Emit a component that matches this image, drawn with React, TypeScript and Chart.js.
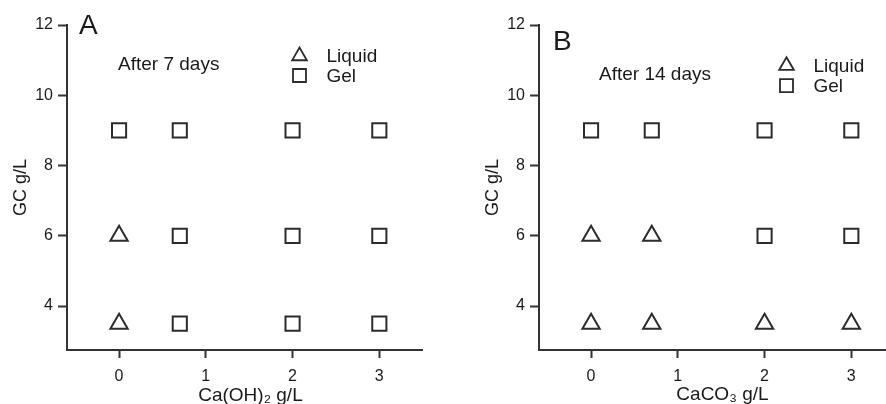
import React, { useEffect, useRef } from "react";
import { Chart, registerables } from "chart.js";

Chart.register(...registerables);

// Tick values shared by both panels
const xTickValues = [0, 1, 2, 3];
const yTickValues = [4, 6, 8, 10, 12];

// Panel A: Ca(OH)2 series after 7 days
const aLiquidX = [0, 0];
const aLiquidY = [6, 3.5];
const aGelX = [0, 0.7, 2, 3, 0.7, 2, 3, 0.7, 2, 3];
const aGelY = [9, 9, 9, 9, 6, 6, 6, 3.5, 3.5, 3.5];

// Panel B: CaCO3 series after 14 days
const bLiquidX = [0, 0.7, 0, 0.7, 2, 3];
const bLiquidY = [6, 6, 3.5, 3.5, 3.5, 3.5];
const bGelX = [0, 0.7, 2, 3, 2, 3];
const bGelY = [9, 9, 9, 9, 6, 6];

const seriesLabels = ["Liquid", "Gel"];

const FONT = "'Liberation Sans', Arial, Helvetica, sans-serif";
const INK = "#1a1a1a";
const MARK = "#2b2b2b";

const toPoints = (xs: number[], ys: number[]) => xs.map((x, i) => ({ x, y: ys[i] }));

type Decor = {
  letter: string;
  letterAt: [number, number];
  note: string;
  noteAt: [number, number];
  legendAt: [number, number];
  legendGap: number;
  xTitle: string;
  xTitleShift: number;
  xTitleBaseline: number;
};

// Panel letter, note, legend and x-axis title, positioned relative to the chart area
const panelDecor = {
  id: "panelDecor",
  afterDraw(chart: any, _args: any, opts: Decor) {
    const { ctx, chartArea } = chart;
    const { left, top, right } = chartArea;
    ctx.save();
    ctx.fillStyle = INK;
    ctx.textAlign = "left";
    ctx.textBaseline = "alphabetic";
    ctx.font = `28px ${FONT}`;
    ctx.fillText(opts.letter, left + opts.letterAt[0], top + opts.letterAt[1]);
    ctx.font = `19px ${FONT}`;
    ctx.fillText(opts.note, left + opts.noteAt[0], top + opts.noteAt[1]);

    chart.data.datasets.forEach((ds: any, i: number) => {
      const cx = left + opts.legendAt[0];
      const cy = top + opts.legendAt[1] + i * opts.legendGap;
      ctx.strokeStyle = MARK;
      ctx.lineWidth = 1.8;
      ctx.beginPath();
      if (ds.pointStyle === "triangle") {
        const r = 8.5;
        for (let k = 0; k < 3; k++) {
          const a = (k * 2 * Math.PI) / 3;
          const px = cx + Math.sin(a) * r;
          const py = cy - Math.cos(a) * r;
          if (k === 0) ctx.moveTo(px, py);
          else ctx.lineTo(px, py);
        }
        ctx.closePath();
      } else {
        const h = 6.5;
        ctx.rect(cx - h, cy - h, 2 * h, 2 * h);
      }
      ctx.stroke();
      ctx.fillStyle = INK;
      ctx.font = `19px ${FONT}`;
      ctx.fillText(ds.label, cx + 27, cy + 6);
    });

    ctx.textAlign = "center";
    ctx.font = `19px ${FONT}`;
    ctx.fillText(opts.xTitle, (left + right) / 2 + opts.xTitleShift, opts.xTitleBaseline);
    ctx.restore();
  },
};

type PanelProps = {
  left: number;
  liquid: { x: number; y: number }[];
  gel: { x: number; y: number }[];
  decor: Decor;
};

function Panel({ left, liquid, gel, decor }: PanelProps) {
  const ref = useRef<HTMLCanvasElement | null>(null);

  useEffect(() => {
    if (!ref.current) return;
    const markerBase = {
      showLine: false,
      pointRadius: 10,
      pointHoverRadius: 10,
      pointBorderWidth: 2,
      borderColor: MARK,
      backgroundColor: "rgba(0,0,0,0)",
      pointBackgroundColor: "rgba(0,0,0,0)",
    };
    const chart = new Chart(ref.current, {
      type: "scatter",
      data: {
        datasets: [
          { ...markerBase, label: seriesLabels[0], data: liquid, pointStyle: "triangle" },
          { ...markerBase, label: seriesLabels[1], data: gel, pointStyle: "rect" },
        ],
      },
      options: {
        responsive: false,
        maintainAspectRatio: false,
        animation: false,
        events: [],
        layout: { padding: { top: 25, right: 27.3, bottom: 0, left: 0 } },
        plugins: {
          legend: { display: false },
          tooltip: { enabled: false },
          panelDecor: decor,
        } as any,
        scales: {
          x: {
            type: "linear",
            position: "bottom",
            min: -0.6,
            max: 3.5,
            afterBuildTicks: (scale: any) => {
              scale.ticks = xTickValues.map((value) => ({ value }));
            },
            afterFit: (scale: any) => {
              scale.height = 54;
            },
            grid: {
              drawOnChartArea: false,
              drawTicks: true,
              tickLength: 8,
              tickWidth: 2,
              tickColor: "#333",
            },
            border: { display: true, color: "#333", width: 2 },
            ticks: {
              color: INK,
              font: { family: FONT, size: 16 },
              padding: 9,
              maxRotation: 0,
              callback: (v: any) => String(v),
            },
          },
          y: {
            type: "linear",
            position: "left",
            min: 2.75,
            max: 12,
            afterBuildTicks: (scale: any) => {
              scale.ticks = yTickValues.map((value) => ({ value }));
            },
            afterFit: (scale: any) => {
              scale.width = 67;
            },
            grid: {
              drawOnChartArea: false,
              drawTicks: true,
              tickLength: 9,
              tickWidth: 2,
              tickColor: "#333",
            },
            border: { display: true, color: "#333", width: 2 },
            ticks: {
              color: INK,
              font: { family: FONT, size: 16 },
              padding: 5,
              callback: (v: any) => String(v),
            },
            title: {
              display: true,
              text: "GC g/L",
              color: INK,
              font: { family: FONT, size: 18 },
              padding: { top: 10, bottom: 0 },
            },
          },
        },
      },
      plugins: [panelDecor],
    });
    return () => chart.destroy();
  }, []);

  return (
    <canvas
      ref={ref}
      width={450}
      height={404}
      style={{ position: "absolute", left, top: 0, width: 450, height: 404 }}
    />
  );
}

export default function App() {
  return (
    <div
      style={{
        position: "fixed",
        left: 0,
        top: 0,
        width: 886,
        height: 404,
        overflow: "hidden",
        background: "#fff",
      }}
    >
      <Panel
        left={0}
        liquid={toPoints(aLiquidX, aLiquidY)}
        gel={toPoints(aGelX, aGelY)}
        decor={{
          letter: "A",
          letterAt: [12, 9],
          note: "After 7 days",
          noteAt: [51, 45],
          legendAt: [232.5, 31],
          legendGap: 19.5,
          xTitle: "Ca(OH)₂ g/L",
          xTitleShift: 5.6,
          xTitleBaseline: 401,
        }}
      />
      <Panel
        left={472}
        liquid={toPoints(bLiquidX, bLiquidY)}
        gel={toPoints(bGelX, bGelY)}
        decor={{
          letter: "B",
          letterAt: [14, 25],
          note: "After 14 days",
          noteAt: [60, 55],
          legendAt: [247.5, 40.7],
          legendGap: 20,
          xTitle: "CaCO₃ g/L",
          xTitleShift: 5.6,
          xTitleBaseline: 400,
        }}
      />
    </div>
  );
}
